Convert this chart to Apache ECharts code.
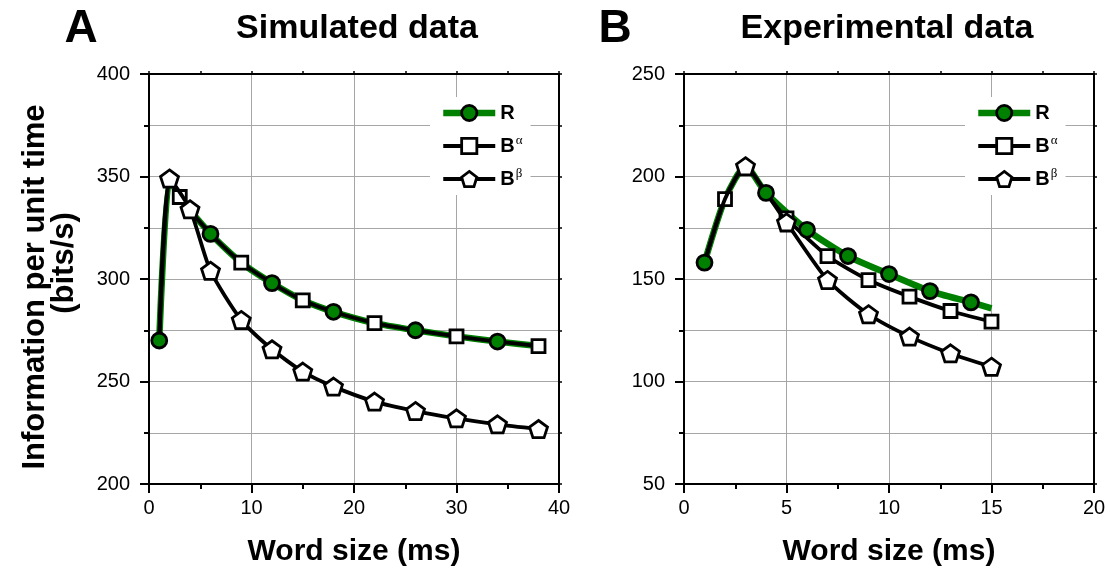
<!DOCTYPE html>
<html><head><meta charset="utf-8">
<script src="https://cdn.jsdelivr.net/npm/echarts@6/dist/echarts.min.js"></script>
<style>html,body{margin:0;padding:0;background:#fff}#c{width:1110px;height:573px}</style>
</head><body><div id="c"></div>
<script>
// ---------- Panel A: simulated data ----------
const simX            = [1, 2, 3, 6, 9, 12, 15, 18, 22, 26, 30, 34, 38];
const simR            = [270, 349, 340, 322, 308, 298, 289.6, 284, 278.5, 275, 272, 269.5, 267.3];
const simBalpha       = [270, 349, 340, 322, 308, 298, 289.6, 284, 278.5, 275, 272, 269.5, 267.3];
const simBetaX        = [1, 2, 4, 6, 9, 12, 15, 18, 22, 26, 30, 34, 38];
const simBbeta        = [270, 349, 334, 304, 280, 265.7, 254.8, 247.5, 240.2, 235.6, 232, 229.1, 226.8];
const simRMarks       = [1, 6, 12, 18, 26, 34];
const simBalphaMarks  = [3, 9, 15, 22, 30, 38];
const simBbetaMarks   = [2, 4, 6, 9, 12, 15, 18, 22, 26, 30, 34, 38];
const simXAxisRange   = [0, 40, 10];
const simYAxisRange   = [200, 400, 50];

// ---------- Panel B: experimental data ----------
const expRX           = [1, 2, 3, 4, 6, 8, 10, 12, 14, 15];
const expR            = [158, 189, 205, 192, 174, 161.2, 152.4, 144.1, 138.6, 135.7];
const expBX           = [1, 2, 3, 4, 5, 7, 9, 11, 13, 15];
const expBalpha       = [158, 189, 205, 192, 179.6, 161.2, 149.5, 141.4, 134.4, 129.2];
const expBbeta        = [158, 189, 205, 192, 177.6, 149.5, 132.8, 121.9, 113.7, 107.2];
const expRMarks       = [1, 4, 6, 8, 10, 12, 14];
const expBalphaMarks  = [2, 5, 7, 9, 11, 13, 15];
const expBbetaMarks   = [3, 5, 7, 9, 11, 13, 15];
const expXAxisRange   = [0, 20, 5];
const expYAxisRange   = [50, 250, 50];

// ---------- Texts ----------
const panelLetters = ['A', 'B'];
const panelTitles  = ['Simulated data', 'Experimental data'];
const xAxisTitle   = 'Word size (ms)';
const yAxisTitleLines = ['Information per unit time', '(bits/s)'];
const seriesNames  = ['R', 'Bα', 'Bβ'];

const FONT = 'Liberation Sans, Arial, sans-serif';
const GREEN = '#008000';
const GRIDC = '#a6a6a6';
const PENT = 'path://M50,0 L97.55,34.55 L79.39,90.45 L20.61,90.45 L2.45,34.55 Z';
const BLACK_W = 3.8, GREEN_W = 6.5, BORDER_W = 2.8;

function lineData(xs, ys, marks) {
  return xs.map((x, i) => marks.indexOf(x) >= 0 ? [x, ys[i]] : { value: [x, ys[i]], symbol: 'none' });
}
function markData(xs, ys, marks) {
  return xs.map((x, i) => [x, ys[i]]).filter(p => marks.indexOf(p[0]) >= 0);
}

function mainAxis(kind, gridIndex, range, name, nameGap) {
  const isX = kind === 'x';
  return {
    type: 'value', gridIndex: gridIndex, position: isX ? 'bottom' : 'left',
    min: range[0], max: range[1], interval: range[2],
    name: name || '', nameLocation: 'middle', nameGap: nameGap || 0,
    nameTextStyle: { fontFamily: FONT, fontSize: 30, fontWeight: 'bold', color: '#000', lineHeight: 30 },
    axisLine: { show: true, onZero: false, lineStyle: { color: '#000', width: 2 } },
    axisTick: { show: true, inside: false, length: 9, lineStyle: { color: '#000', width: 2 } },
    minorTick: { show: true, splitNumber: 2, length: 5, lineStyle: { color: '#000', width: 2 } },
    axisLabel: { show: true, margin: isX ? 14 : 19, fontFamily: FONT, fontSize: 20, color: '#000' },
    splitLine: { show: true, lineStyle: { color: GRIDC, width: 1 } },
    minorSplitLine: { show: !isX, lineStyle: { color: GRIDC, width: 1 } }
  };
}
function mirrorAxis(kind, gridIndex, range) {
  return {
    type: 'value', gridIndex: gridIndex, position: kind === 'x' ? 'top' : 'right',
    min: range[0], max: range[1], interval: range[2],
    axisLine: { show: true, onZero: false, lineStyle: { color: '#000', width: 2 } },
    axisTick: { show: true, inside: false, length: 3, lineStyle: { color: '#000', width: 1.5 } },
    minorTick: { show: true, splitNumber: 2, length: 3, lineStyle: { color: '#000', width: 1.5 } },
    axisLabel: { show: false }, splitLine: { show: false }, minorSplitLine: { show: false }
  };
}

function panelSeries(xi, yi, d) {
  const common = { type: 'line', xAxisIndex: xi, yAxisIndex: yi, smooth: 0.22, animation: false,
                   emphasis: { disabled: true }, silent: true };
  return [
    Object.assign({}, common, {
      name: seriesNames[0], z: 2, showSymbol: false, symbol: 'circle', symbolSize: 15,
      lineStyle: { color: GREEN, width: GREEN_W },
      itemStyle: { color: GREEN, borderColor: '#000', borderWidth: BORDER_W },
      data: d.rx.map((x, i) => [x, d.r[i]])
    }),
    Object.assign({}, common, {
      name: seriesNames[1], z: 3, symbol: 'rect', symbolSize: 13,
      lineStyle: { color: '#000', width: BLACK_W },
      itemStyle: { color: '#fff', borderColor: '#000', borderWidth: BORDER_W },
      data: lineData(d.ax, d.a, d.am)
    }),
    Object.assign({}, common, {
      name: seriesNames[2], z: 4, symbol: PENT, symbolSize: 18, symbolKeepAspect: true,
      lineStyle: { color: '#000', width: BLACK_W },
      itemStyle: { color: '#fff', borderColor: '#000', borderWidth: BORDER_W },
      data: lineData(d.bx, d.b, d.bm)
    }),
    {
      type: 'scatter', name: 'R markers', xAxisIndex: xi, yAxisIndex: yi, z: 5, silent: true,
      symbol: 'circle', symbolSize: 15, emphasis: { disabled: true },
      itemStyle: { color: GREEN, borderColor: '#000', borderWidth: BORDER_W, opacity: 1 },
      data: markData(d.rx, d.r, d.rm)
    }
  ];
}

function legendFor(left) {
  return {
    data: [
      { name: seriesNames[0], lineStyle: { width: GREEN_W, color: GREEN }, itemStyle: { color: GREEN, borderColor: '#000', borderWidth: BORDER_W } },
      { name: seriesNames[1], lineStyle: { width: BLACK_W, color: '#000' }, itemStyle: { color: '#fff', borderColor: '#000', borderWidth: BORDER_W } },
      { name: seriesNames[2], lineStyle: { width: BLACK_W, color: '#000' }, itemStyle: { color: '#fff', borderColor: '#000', borderWidth: BORDER_W } }
    ],
    left: left, top: 97, orient: 'vertical',
    itemWidth: 52, itemHeight: 19, itemGap: 11, padding: [6, 8, 6, 10],
    backgroundColor: '#fff', selectedMode: false, z: 6,
    formatter: n => n === 'R' ? '{b|R}' : '{b|B}{s|' + n.slice(1) + '}',
    textStyle: {
      color: '#000',
      rich: {
        b: { fontFamily: FONT, fontSize: 20, fontWeight: 'bold', color: '#000', lineHeight: 24 },
        s: { fontFamily: 'Liberation Serif, serif', fontSize: 13, color: '#000', lineHeight: 6, verticalAlign: 'top', padding: [0, 0, 0, 1] }
      }
    }
  };
}

const chart = echarts.init(document.getElementById('c'), null, { renderer: 'canvas' });
const titleText = (x, y, text, font, rot) => ({
  type: 'text', x: x, y: y, rotation: rot || 0, z: 10,
  style: { text: text, font: font, fill: '#000', align: 'center', verticalAlign: 'middle' }
});
const option = {
  animation: false,
  backgroundColor: '#fff',
  textStyle: { fontFamily: FONT },
  grid: [
    { left: 149, top: 74, width: 410, height: 410, show: true, borderColor: '#000', borderWidth: 2,
      backgroundColor: 'transparent', containLabel: false, outerBoundsMode: 'none' },
    { left: 684, top: 74, width: 410, height: 410, show: true, borderColor: '#000', borderWidth: 2,
      backgroundColor: 'transparent', containLabel: false, outerBoundsMode: 'none' }
  ],
  xAxis: [
    mainAxis('x', 0, simXAxisRange, xAxisTitle, 53),
    mirrorAxis('x', 0, simXAxisRange),
    mainAxis('x', 1, expXAxisRange, xAxisTitle, 53),
    mirrorAxis('x', 1, expXAxisRange)
  ],
  yAxis: [
    mainAxis('y', 0, simYAxisRange, '', 0),
    mirrorAxis('y', 0, simYAxisRange),
    mainAxis('y', 1, expYAxisRange, '', 0),
    mirrorAxis('y', 1, expYAxisRange)
  ],
  legend: [legendFor(430), legendFor(965)],
  graphic: [
    titleText(81, 29, panelLetters[0], 'bold 46px ' + FONT),
    titleText(357, 29, panelTitles[0], 'bold 34px ' + FONT),
    titleText(615, 29, panelLetters[1], 'bold 46px ' + FONT),
    titleText(887, 29, panelTitles[1], 'bold 34px ' + FONT),
    titleText(35, 287, yAxisTitleLines[0], 'bold 31px ' + FONT, Math.PI / 2),
    titleText(64, 263, yAxisTitleLines[1], 'bold 31px ' + FONT, Math.PI / 2)
  ],
  series: [].concat(
    panelSeries(0, 0, { rx: simX, r: simR, rm: simRMarks, ax: simX, a: simBalpha, am: simBalphaMarks,
                        bx: simBetaX, b: simBbeta, bm: simBbetaMarks }),
    panelSeries(2, 2, { rx: expRX, r: expR, rm: expRMarks, ax: expBX, a: expBalpha, am: expBalphaMarks,
                        bx: expBX, b: expBbeta, bm: expBbetaMarks })
  )
};
chart.setOption(option);
</script>
</body></html>
